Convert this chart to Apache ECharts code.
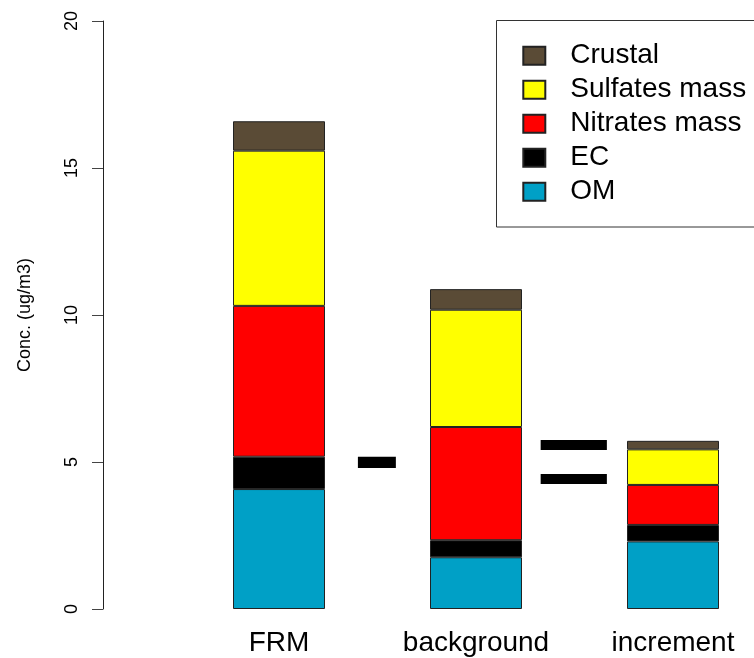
<!DOCTYPE html>
<html><head><meta charset="utf-8">
<script src="https://cdn.jsdelivr.net/npm/echarts@6/dist/echarts.min.js"></script>
<style>html,body{margin:0;padding:0;background:#fff}#chart{width:754px;height:658px}</style>
</head><body><div id="chart"></div>
<script>
// ---- data ----
const categories = ['FRM', 'background', 'increment'];
const OM       = [4.08, 1.76, 2.30];
const EC       = [1.10, 0.58, 0.56];
const Nitrates = [5.13, 3.85, 1.36];
const Sulfates = [5.28, 3.99, 1.21];
const Crustal  = [1.00, 0.70, 0.29];
const yTicks = [0, 5, 10, 15, 20];
const legendOrder = ['Crustal', 'Sulfates mass', 'Nitrates mass', 'EC', 'OM'];

// ---- styles ----
const FONT = '"Liberation Sans", Arial, sans-serif';
const colorMap = {
  'OM': '#00A0C6',
  'EC': '#000000',
  'Nitrates mass': '#FF0000',
  'Sulfates mass': '#FFFF00',
  'Crustal': '#5A4B36'
};
const stackSeries = [
  ['OM', OM], ['EC', EC], ['Nitrates mass', Nitrates], ['Sulfates mass', Sulfates], ['Crustal', Crustal]
];

// fit a glyph's ink box into a target box
function fitGlyph(ch, box, size) {
  const c = document.createElement('canvas').getContext('2d');
  c.font = size + 'px ' + FONT;
  c.textAlign = 'left';
  c.textBaseline = 'middle';
  const m = c.measureText(ch);
  const inkW = m.actualBoundingBoxLeft + m.actualBoundingBoxRight;
  const inkH = m.actualBoundingBoxAscent + m.actualBoundingBoxDescent;
  const sx = box.w / inkW, sy = box.h / inkH;
  return {
    type: 'text',
    x: box.x + sx * m.actualBoundingBoxLeft,
    y: box.y + sy * m.actualBoundingBoxAscent,
    scaleX: sx, scaleY: sy,
    z: 10,
    style: { text: ch, fontSize: size, fontFamily: FONT, fill: '#000', align: 'left', verticalAlign: 'middle' }
  };
}

// x layout: category i sits at value i; 197 px per category, first centre at x=279
const gridLeft = 103, gridWidth = 651, pxPerCat = 197, firstCenter = 279;
const xMin = -(firstCenter - gridLeft) / pxPerCat;
const xMax = xMin + gridWidth / pxPerCat;
const catIdx = categories.map((_, i) => i);

const chart = echarts.init(document.getElementById('chart'), null, { renderer: 'canvas' });
chart.setOption({
  animation: false,
  backgroundColor: '#fff',
  grid: { left: gridLeft, top: 21, width: gridWidth, height: 588, containLabel: false },
  xAxis: {
    type: 'value',
    min: xMin, max: xMax,
    axisLine: { show: false, onZero: false },
    axisTick: { show: false },
    splitLine: { show: false },
    axisLabel: {
      customValues: catIdx,
      formatter: v => categories[Math.round(v)] || '',
      fontSize: 28, fontFamily: FONT, color: '#000', margin: 20
    }
  },
  yAxis: {
    type: 'value',
    min: yTicks[0], max: yTicks[yTicks.length - 1], interval: 5,
    name: 'Conc. (ug/m3)',
    nameLocation: 'middle',
    nameRotate: 90,
    nameGap: 69,
    nameTextStyle: { fontSize: 18, fontFamily: FONT, color: '#000' },
    axisLine: { show: true, onZero: false, lineStyle: { color: '#222', width: 1 } },
    axisTick: { show: true, length: 11, lineStyle: { color: '#444', width: 1 } },
    axisLabel: { rotate: 90, fontSize: 18, fontFamily: FONT, color: '#000', margin: 22 },
    splitLine: { show: false }
  },
  legend: {
    data: legendOrder,
    orient: 'vertical',
    left: 522.3, top: 41.7,
    padding: 0,
    itemWidth: 22, itemHeight: 18, itemGap: 6,
    icon: 'rect',
    textStyle: { fontSize: 28, fontFamily: FONT, color: '#000', padding: [0, 0, 0, 20] }
  },
  series: stackSeries.map(([name, vals]) => ({
    name: name,
    type: 'bar',
    stack: 'total',
    barWidth: 92,
    // value first so it is the stacked dimension; category index mapped to x
    dimensions: ['conc', 'cat'],
    encode: { x: 'cat', y: 'conc' },
    data: vals.map((v, i) => [v, catIdx[i]]),
    itemStyle: { color: colorMap[name], borderColor: '#222', borderWidth: 1 }
  })),
  graphic: [
    { type: 'rect', shape: { x: 496.5, y: 20.5, width: 300, height: 206.5 },
      style: { fill: 'none', stroke: '#333', lineWidth: 1 }, z: -1 },
    fitGlyph('-', { x: 357.3, y: 456.7, w: 39.4, h: 11.6 }, 150),
    fitGlyph('=', { x: 540, y: 440, w: 67.7, h: 44.3 }, 137)
  ]
});
</script></body></html>
